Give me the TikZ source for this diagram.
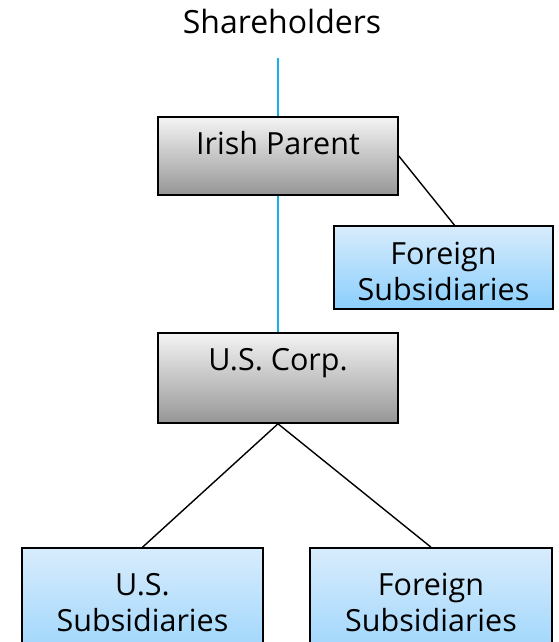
\documentclass[tikz,border=0pt]{standalone}
\usepackage{fontspec}
\setmainfont{Open Sans}
\usetikzlibrary{calc}

\definecolor{grayTop}{RGB}{244,244,244}
\definecolor{grayBot}{RGB}{150,150,150}
\definecolor{blueTop}{RGB}{216,236,252}
\definecolor{blueBot}{RGB}{138,206,252}
\definecolor{ownerBlue}{RGB}{22,176,236}

\tikzset{
    graybox/.style={draw=black, line width=1.6pt, top color=grayTop, bottom color=grayBot,
        minimum width=240pt, inner ysep=0pt, align=center},
    bluebox/.style={draw=black, line width=1.6pt, top color=blueTop, bottom color=blueBot,
        inner ysep=0pt, align=center},
    owner/.style={line width=2pt, draw=ownerBlue},
    link/.style={line width=1.4pt, draw=black}
}

\begin{document}
\begin{tikzpicture}[x=1pt, y=-1pt, font=\fontsize{30.5}{36}\selectfont]
    \clip (0,0) rectangle (558,642);
    \useasboundingbox (0,0) rectangle (558,642);
    % Owners on top
    \node[font=\fontsize{32}{36}\selectfont] (sh) at (282,22) {Shareholders};
    \coordinate (shfoot) at (278,58);
    % Boxes (base = last text line)
    \node[graybox, anchor=base, text height=37pt, text depth=41pt] (ip) at (278,154) {Irish Parent};
    \node[bluebox, anchor=base, minimum width=219pt, text height=74pt, text depth=9pt] (fs1) at (443.5,300)
        {Foreign\\Subsidiaries};
    \node[graybox, anchor=base, text height=37pt, text depth=53pt] (us) at (278,370) {U.S. Corp.};
    \node[bluebox, anchor=base, minimum width=241pt, text height=83pt, text depth=60pt] (uss) at (142.5,631)
        {U.S.\\Subsidiaries};
    \node[bluebox, anchor=base, minimum width=242pt, text height=83pt, text depth=60pt] (fs2) at (431,631)
        {Foreign\\Subsidiaries};
    % Ownership lines
    \draw[owner] (shfoot) -- (ip.north);
    \draw[owner] (ip.south) -- (us.north);
    \draw[link] (ip.east) -- ([xshift=11pt]fs1.north);
    \draw[link] (us.south) -- (uss.north);
    \draw[link] (us.south) -- (fs2.north);
\end{tikzpicture}
\end{document}
